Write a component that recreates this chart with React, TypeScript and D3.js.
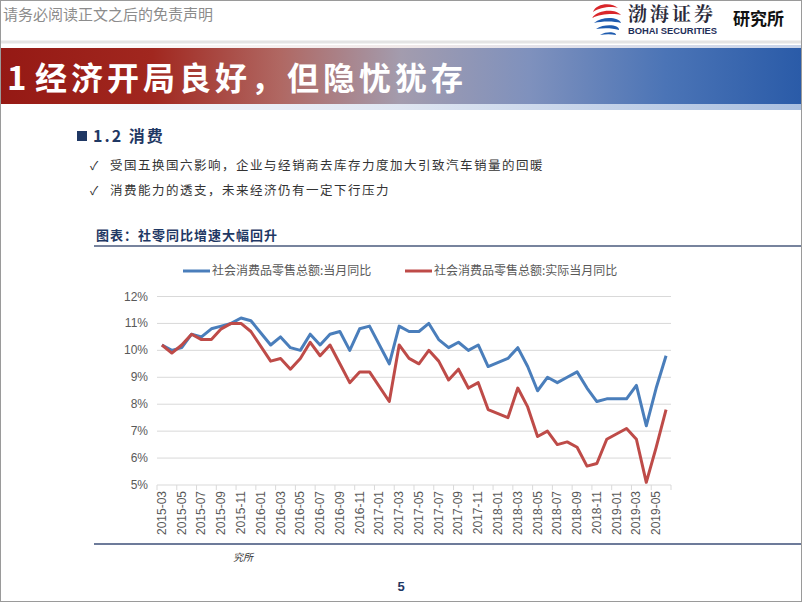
import React from "react";
import * as d3 from "d3";

const months = [
  "2015-03","2015-04","2015-05","2015-06","2015-07","2015-08","2015-09","2015-10","2015-11","2015-12",
  "2016-01","2016-02","2016-03","2016-04","2016-05","2016-06","2016-07","2016-08","2016-09","2016-10","2016-11","2016-12",
  "2017-01","2017-02","2017-03","2017-04","2017-05","2017-06","2017-07","2017-08","2017-09","2017-10","2017-11","2017-12",
  "2018-01","2018-02","2018-03","2018-04","2018-05","2018-06","2018-07","2018-08","2018-09","2018-10","2018-11","2018-12",
  "2019-01","2019-02","2019-03","2019-04","2019-05","2019-06",
];

const nominalYoY: (number | null)[] = [
  10.2, 10.0, 10.1, 10.6, 10.5, 10.8, 10.9, 11.0, 11.2, 11.1,
  null, 10.2, 10.5, 10.1, 10.0, 10.6, 10.2, 10.6, 10.7, 10.0, 10.8, 10.9,
  null, 9.5, 10.9, 10.7, 10.7, 11.0, 10.4, 10.1, 10.3, 10.0, 10.2, 9.4,
  null, 9.7, 10.1, 9.4, 8.5, 9.0, 8.8, 9.0, 9.2, 8.6, 8.1, 8.2,
  null, 8.2, 8.7, 7.2, 8.6, 9.8,
];

const realYoY: (number | null)[] = [
  10.2, 9.9, 10.2, 10.6, 10.4, 10.4, 10.8, 11.0, 11.0, 10.7,
  null, 9.6, 9.7, 9.3, 9.7, 10.3, 9.8, 10.2, 9.5, 8.8, 9.2, 9.2,
  null, 8.1, 10.2, 9.7, 9.5, 10.0, 9.6, 8.9, 9.3, 8.6, 8.8, 7.8,
  null, 7.5, 8.6, 7.9, 6.8, 7.0, 6.5, 6.6, 6.4, 5.7, 5.8, 6.7,
  null, 7.1, 6.7, 5.1, 6.4, 7.8,
];

const yTicks = [5, 6, 7, 8, 9, 10, 11, 12];
const seriesNames = ["社会消费品零售总额:当月同比", "社会消费品零售总额:实际当月同比"];
const seriesColors = ["#4A7EBB", "#BE4B48"];
const bullets = [
  "受国五换国六影响，企业与经销商去库存力度加大引致汽车销量的回暖",
  "消费能力的透支，未来经济仍有一定下行压力",
];

const CJK = "'Noto Sans CJK SC', 'Noto Sans', sans-serif";
const LAT = "'Liberation Sans', Arial, sans-serif";

export default function App() {
  const W = 802, H = 602;
  const x = d3.scaleBand<string>().domain(months).range([157, 671]).paddingInner(0).paddingOuter(0);
  const y = d3.scaleLinear().domain([5, 12]).range([485, 296.5]);
  const bw = x.bandwidth();

  const makePath = (vals: (number | null)[]) => {
    const pts = months
      .map((m, i) => ({ m, v: vals[i] }))
      .filter((d) => d.v !== null) as { m: string; v: number }[];
    return d3
      .line<{ m: string; v: number }>()
      .x((d) => (x(d.m) as number) + bw / 2)
      .y((d) => y(d.v))(pts) as string;
  };

  const tickIdx = d3.range(0, months.length + 1, 2);

  return (
    <div style={{ position: "absolute", left: 0, top: 0 }}>
      <svg width={W} height={H} style={{ display: "block", background: "#fff" }}>
        <defs>
          <linearGradient id="bar" x1="0" x2="1" y1="0" y2="0">
            <stop offset="0" stopColor="#951914" />
            <stop offset="0.19" stopColor="#A1271F" />
            <stop offset="0.35" stopColor="#B06863" />
            <stop offset="0.5" stopColor="#A39CAE" />
            <stop offset="0.66" stopColor="#7F91BD" />
            <stop offset="0.83" stopColor="#4B74B6" />
            <stop offset="1" stopColor="#2A5BA8" />
          </linearGradient>
          <linearGradient id="strip" x1="0" x2="1" y1="0" y2="0">
            <stop offset="0" stopColor="#ffffff" />
            <stop offset="0.5" stopColor="#dfe6f2" />
            <stop offset="1" stopColor="#a9bfe0" />
          </linearGradient>
          <linearGradient id="stripTop" x1="0" x2="1" y1="0" y2="0">
            <stop offset="0" stopColor="#ffffff" />
            <stop offset="0.5" stopColor="#f0e8e8" />
            <stop offset="1" stopColor="#c8d4ea" />
          </linearGradient>
        </defs>

        {/* header */}
        <text x={3} y={20} fontFamily={CJK} fontSize={15} fill="#8c8c8c">请务必阅读正文之后的免责声明</text>
        <line x1={0} x2={W} y1={42} y2={42} stroke="#e4e4e4" strokeWidth={3} />

        {/* logo */}
        <g>
          <path d="M593,12 C596,3 612,2 618,8 C612,6 600,7 593,12 Z" fill="#D9262A" />
          <path d="M592,18 C598,9 616,9 621,15 C614,13 600,14 592,18 Z" fill="#D9262A" />
          <path d="M594,23 C602,16 619,17 621,23 C614,21 602,21 594,23 Z" fill="#1E5BAF" />
          <path d="M596,29 C605,23 620,25 619,30 C612,28 604,28 596,29 Z" fill="#1E5BAF" />
          <path d="M600,35 C607,31 616,32 616,35 C611,34 606,34 600,35 Z" fill="#1E5BAF" />
        </g>
        <text x={628} y={21} fontFamily="'Noto Serif CJK SC', 'Noto Sans CJK SC', serif" fontWeight={700} fontSize={19} fill="#2b2b3b" letterSpacing={3}>渤海证券</text>
        <text x={628} y={33.5} fontFamily={LAT} fontWeight={700} fontSize={9.4} fill="#1f2f5a">BOHAI SECURITIES</text>
        <text x={733} y={25} fontFamily={CJK} fontWeight={700} fontSize={17} fill="#111">研究所</text>

        {/* title bar */}
        <rect x={0} y={45} width={W} height={3} fill="url(#stripTop)" />
        <rect x={0} y={48} width={W} height={56} fill="url(#bar)" />
        <rect x={0} y={104} width={W} height={6} fill="url(#strip)" />
        <text x={7} y={90} fontFamily={CJK} fontWeight={700} fontSize={33} fill="#fff">1</text>
        <text x={35} y={90} fontFamily={CJK} fontWeight={700} fontSize={32} fill="#fff" letterSpacing={4}>经济开局良好，但隐忧犹存</text>

        {/* section heading */}
        <rect x={77} y={131} width={10} height={10} fill="#1F3864" />
        <text x={93} y={142} fontFamily={CJK} fontWeight={700} fontSize={16} fill="#1F3864" letterSpacing={2}>1.2 消费</text>
        {bullets.map((b, i) => (
          <g key={i}>
            <text x={90} y={170 + i * 25} fontFamily={CJK} fontSize={12} fill="#333">✓</text>
            <text x={110} y={170 + i * 25} fontFamily={CJK} fontSize={12.5} fill="#333" letterSpacing={1.5}>{b}</text>
          </g>
        ))}

        {/* chart title */}
        <text x={96} y={240} fontFamily={CJK} fontWeight={700} fontSize={13} fill="#1F3864" letterSpacing={1}>图表：社零同比增速大幅回升</text>
        <line x1={94} x2={W} y1={246} y2={246} stroke="#4a5a7c" strokeWidth={1.5} />

        {/* legend */}
        {seriesNames.map((n, i) => {
          const lx = i === 0 ? 183 : 405;
          return (
            <g key={n}>
              <line x1={lx} x2={lx + 27} y1={271} y2={271} stroke={seriesColors[i]} strokeWidth={3} />
              <text x={lx + 29} y={275} fontFamily={CJK} fontSize={12} fill="#595959">{n}</text>
            </g>
          );
        })}

        {/* grid + y axis */}
        {yTicks.map((t) => (
          <g key={t}>
            <line x1={157} x2={671} y1={y(t)} y2={y(t)} stroke="#d9d9d9" strokeWidth={1} />
            <text x={148} y={y(t) + 4} textAnchor="end" fontFamily={LAT} fontSize={12} fill="#595959">{t}%</text>
          </g>
        ))}

        {/* x axis ticks */}
        {tickIdx.map((i) => {
          const xx = 157 + i * bw;
          return <line key={i} x1={xx} x2={xx} y1={485} y2={490} stroke="#d9d9d9" strokeWidth={1} />;
        })}
        {months.map((m, i) =>
          i % 2 === 0 ? (
            <text
              key={m}
              transform={`translate(${(x(m) as number) + bw / 2 + 4},${491}) rotate(-90)`}
              textAnchor="end"
              fontFamily={LAT}
              fontSize={12}
              fill="#595959"
            >
              {m}
            </text>
          ) : null
        )}

        {/* lines */}
        <path d={makePath(nominalYoY)} fill="none" stroke={seriesColors[0]} strokeWidth={3} strokeLinejoin="round" />
        <path d={makePath(realYoY)} fill="none" stroke={seriesColors[1]} strokeWidth={3} strokeLinejoin="round" />

        {/* bottom */}
        <line x1={94} x2={W} y1={544} y2={544} stroke="#3d4f78" strokeWidth={1.5} />
        <text x={233} y={561} fontFamily={CJK} fontStyle="italic" fontSize={10} fill="#333">究所</text>
        <text x={401} y={591} textAnchor="middle" fontFamily={LAT} fontWeight={700} fontSize={13} fill="#1F3864">5</text>

        <rect x={0.5} y={0.5} width={W - 1} height={H - 1} fill="none" stroke="#9a9a9a" strokeWidth={1} />
      </svg>
    </div>
  );
}
